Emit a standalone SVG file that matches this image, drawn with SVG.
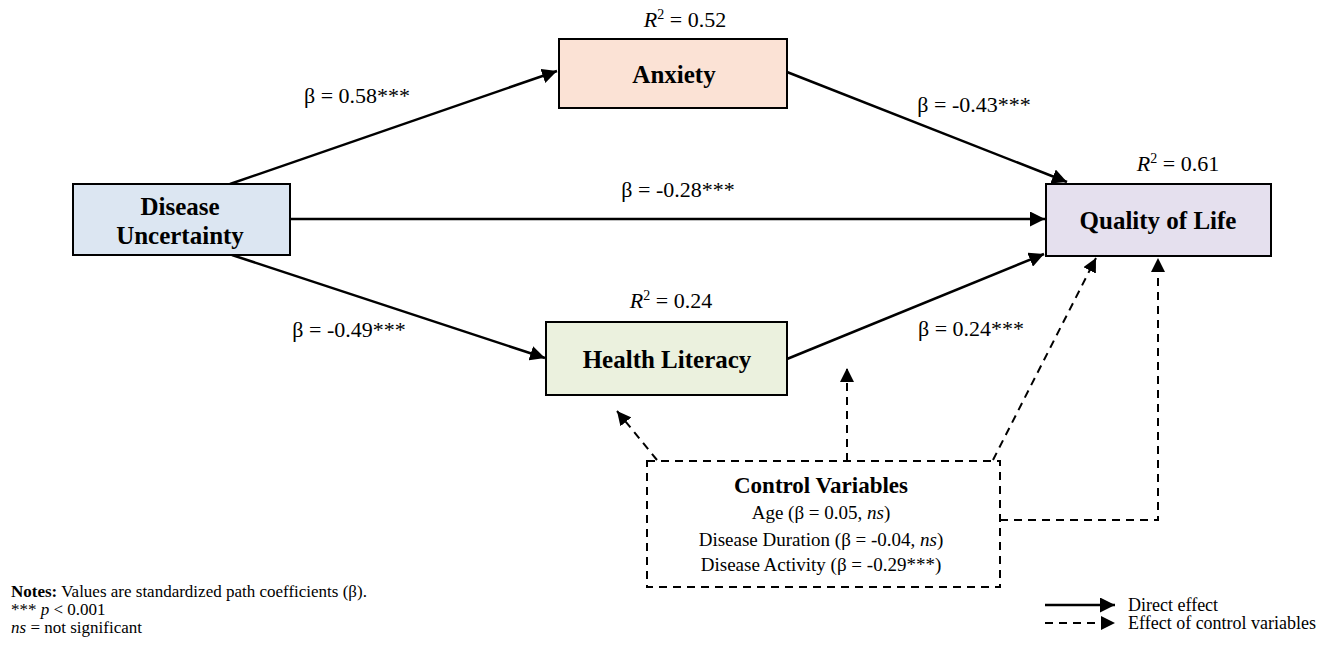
<svg xmlns="http://www.w3.org/2000/svg" width="1333" height="649" viewBox="0 0 1333 649">
<defs>
<marker id="ah" viewBox="0 0 10 10" refX="10" refY="5" markerWidth="6" markerHeight="6" markerUnits="strokeWidth" orient="auto">
<path d="M0,0 L10,5 L0,10 Z" fill="#000"/>
</marker>
<marker id="ahd" viewBox="0 0 10 10" refX="10" refY="5" markerWidth="7" markerHeight="7" markerUnits="strokeWidth" orient="auto">
<path d="M0,0 L10,5 L0,10 Z" fill="#000"/>
</marker>
</defs>
<style>
.box{stroke:#000;stroke-width:2}
.lbl{font-family:"Liberation Serif",serif;font-weight:bold;font-size:25px;fill:#000;text-anchor:middle}
.cv{font-family:"Liberation Serif",serif;font-weight:bold;font-size:23px;fill:#000;text-anchor:middle}
.t{font-family:"Liberation Serif",serif;font-size:22px;fill:#000;text-anchor:middle}
.c{font-family:"Liberation Serif",serif;font-size:19px;fill:#000;text-anchor:middle}
.n{font-family:"Liberation Serif",serif;font-size:17px;fill:#000}
.lg{font-family:"Liberation Serif",serif;font-size:18px;fill:#000}
.solid{stroke:#000;stroke-width:2.5;fill:none;marker-end:url(#ah)}
.dash{stroke:#000;stroke-width:2;fill:none;stroke-dasharray:8 6}
.dasha{stroke:#000;stroke-width:2;fill:none;stroke-dasharray:8 6;marker-end:url(#ahd)}
</style>
<rect width="1333" height="649" fill="#fff"/>
<g id="connectors">
<line class="solid" x1="230" y1="184" x2="557" y2="71"/>
<line class="solid" x1="787" y1="72" x2="1067" y2="182"/>
<line class="solid" x1="290" y1="219" x2="1045" y2="219"/>
<line class="solid" x1="232" y1="255" x2="545" y2="358"/>
<line class="solid" x1="787" y1="359" x2="1044" y2="254"/>
<line class="dasha" x1="657" y1="460" x2="617" y2="411"/>
<line class="dasha" x1="847" y1="461" x2="847" y2="368"/>
<line class="dasha" x1="993" y1="460" x2="1096" y2="258"/>
<polyline class="dasha" points="1000,520 1158,520 1158,258"/>
</g>
<g id="disease-uncertainty">
<rect class="box" x="73" y="184" width="217" height="71" fill="#dce6f2"/>
<text class="lbl" x="180" y="215">Disease</text>
<text class="lbl" x="180" y="244">Uncertainty</text>
</g>
<g id="anxiety">
<rect class="box" x="559" y="39" width="228" height="69" fill="#fbe2d5"/>
<text class="lbl" x="674" y="83">Anxiety</text>
<text class="t" x="685" y="27"><tspan font-style="italic">R</tspan><tspan font-size="14" dy="-8">2</tspan><tspan dy="8"> = 0.52</tspan></text>
</g>
<g id="quality-of-life">
<rect class="box" x="1046" y="184" width="225" height="72" fill="#e5e0ee"/>
<text class="lbl" x="1158" y="229">Quality of Life</text>
<text class="t" x="1178" y="171"><tspan font-style="italic">R</tspan><tspan font-size="14" dy="-8">2</tspan><tspan dy="8"> = 0.61</tspan></text>
</g>
<g id="health-literacy">
<rect class="box" x="546" y="322" width="241" height="73" fill="#ebf1de"/>
<text class="lbl" x="667" y="368">Health Literacy</text>
<text class="t" x="671" y="308"><tspan font-style="italic">R</tspan><tspan font-size="14" dy="-8">2</tspan><tspan dy="8"> = 0.24</tspan></text>
</g>
<g id="control-variables">
<rect x="647" y="461" width="353" height="126" fill="none" class="dash"/>
<text class="cv" x="821" y="493">Control Variables</text>
<text class="c" x="821" y="519">Age (β = 0.05, <tspan font-style="italic">ns</tspan>)</text>
<text class="c" x="821" y="546">Disease Duration (β = -0.04, <tspan font-style="italic">ns</tspan>)</text>
<text class="c" x="821" y="571">Disease Activity (β = -0.29***)</text>
</g>
<g id="path-labels">
<text class="t" x="357" y="103">β = 0.58***</text>
<text class="t" x="974" y="112">β = -0.43***</text>
<text class="t" x="678" y="197">β = -0.28***</text>
<text class="t" x="349" y="337">β = -0.49***</text>
<text class="t" x="971" y="336">β = 0.24***</text>
</g>
<g id="notes">
<text class="n" x="11" y="597"><tspan font-weight="bold">Notes:</tspan> Values are standardized path coefficients (β).</text>
<text class="n" x="11" y="615">*** <tspan font-style="italic">p</tspan> &lt; 0.001</text>
<text class="n" x="11" y="633"><tspan font-style="italic">ns</tspan> = not significant</text>
</g>
<g id="legend">
<line class="solid" x1="1045" y1="605" x2="1115" y2="605"/>
<text class="lg" x="1128" y="611">Direct effect</text>
<line class="dasha" x1="1045" y1="623" x2="1115" y2="623"/>
<text class="lg" x="1128" y="629">Effect of control variables</text>
</g>
</svg>
